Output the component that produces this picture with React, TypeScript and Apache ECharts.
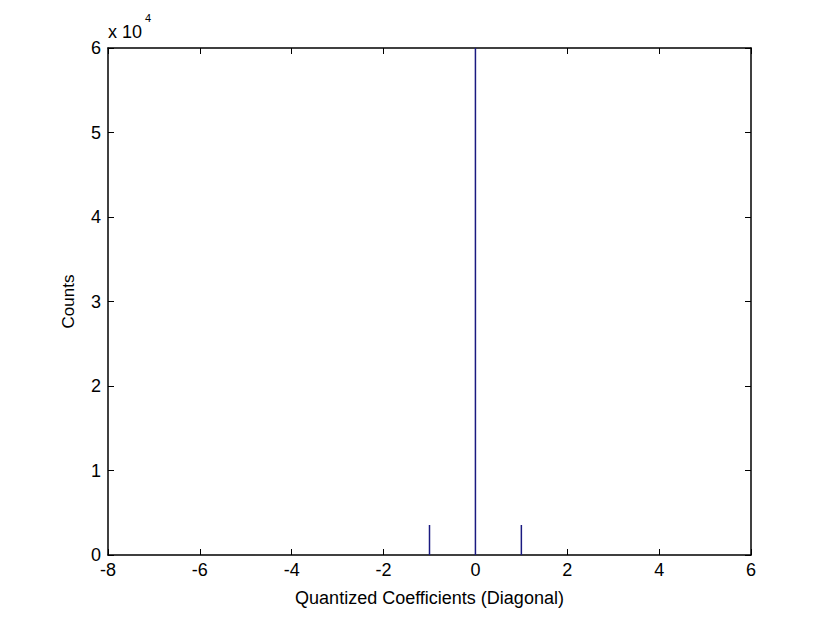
import React, { useEffect, useRef } from "react";
import * as echarts from "echarts";

const binCenters = [-1, 0, 1];
const counts = [3550, 60000, 3550];
const xTicks = [-8, -6, -4, -2, 0, 2, 4, 6];
const yTickLabels = ["0", "1", "2", "3", "4", "5", "6"];
const xTitle = "Quantized Coefficients (Diagonal)";
const yTitle = "Counts";

const FONT = "Liberation Sans, Arial, sans-serif";

export default function App() {
  const ref = useRef<HTMLDivElement>(null);
  useEffect(() => {
    document.body.style.margin = "0";
    const chart = echarts.init(ref.current!, null, { renderer: "svg" });
    const axisLine = { show: true, onZero: false, lineStyle: { color: "#000", width: 1.5 } };
    const tickIn = { show: true, inside: true, length: 6, lineStyle: { color: "#000" } };
    chart.setOption({
      animation: false,
      backgroundColor: "#fff",
      grid: { left: 108, right: 79, top: 48, bottom: 68, containLabel: false },
      xAxis: [
        {
          type: "value",
          min: xTicks[0],
          max: xTicks[xTicks.length - 1],
          interval: 2,
          position: "bottom",
          axisLine,
          axisTick: tickIn,
          splitLine: { show: false },
          axisLabel: { color: "#000", fontFamily: FONT, fontSize: 18, margin: 6 },
          name: xTitle,
          nameLocation: "middle",
          nameGap: 34,
          nameTextStyle: { color: "#000", fontFamily: FONT, fontSize: 18 },
        },
        {
          type: "value",
          min: xTicks[0],
          max: xTicks[xTicks.length - 1],
          interval: 2,
          position: "top",
          axisLine,
          axisTick: tickIn,
          splitLine: { show: false },
          axisLabel: { show: false },
        },
      ],
      yAxis: [
        {
          type: "value",
          min: 0,
          max: 60000,
          interval: 10000,
          position: "left",
          axisLine,
          axisTick: tickIn,
          splitLine: { show: false },
          axisLabel: {
            color: "#000",
            fontFamily: FONT,
            fontSize: 18,
            margin: 7,
            formatter: (v: number) => yTickLabels[Math.round(v / 10000)],
          },
          name: yTitle,
          nameLocation: "middle",
          nameGap: 31,
          nameTextStyle: { color: "#000", fontFamily: FONT, fontSize: 17 },
        },
        {
          type: "value",
          min: 0,
          max: 60000,
          interval: 10000,
          position: "right",
          axisLine,
          axisTick: tickIn,
          splitLine: { show: false },
          axisLabel: { show: false },
        },
      ],
      graphic: [
        {
          type: "text",
          left: 108,
          top: 23,
          style: { text: "x 10", fill: "#000", font: `18px ${FONT}` },
        },
        {
          type: "text",
          left: 145,
          top: 12,
          style: { text: "4", fill: "#000", font: `11px ${FONT}` },
        },
      ],
      series: [
        {
          type: "bar",
          xAxisIndex: 0,
          yAxisIndex: 0,
          barWidth: 1.5,
          itemStyle: { color: "#1a1a80" },
          data: binCenters.map((x, i) => [x, counts[i]]),
        },
      ],
    });
    return () => chart.dispose();
  }, []);
  return <div ref={ref} style={{ width: 830, height: 623 }} />;
}
